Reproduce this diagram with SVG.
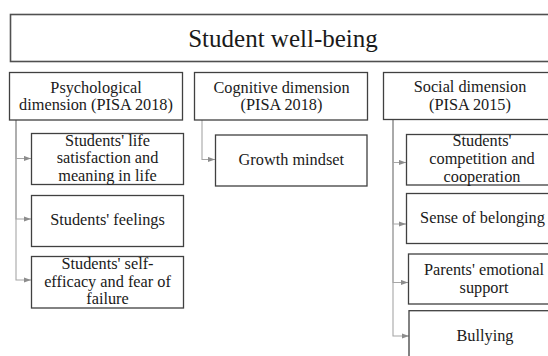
<svg xmlns="http://www.w3.org/2000/svg" width="548" height="356" viewBox="0 0 548 356">
<style>
.box{fill:#fff;stroke:#404040;stroke-width:1.3}
.title{fill:#fff;stroke:#505050;stroke-width:1.6}
text{font-family:'Liberation Serif','DejaVu Serif',serif;fill:#1a1a1a;text-anchor:middle}
.t{font-size:16.3px}
.tt{font-size:25px}
.c{fill:none;stroke:#a6a6a6;stroke-width:1.1;marker-end:url(#ah)}
</style>
<defs>
<marker id="ah" markerUnits="userSpaceOnUse" markerWidth="7" markerHeight="6" refX="7" refY="3" orient="auto">
<path d="M0,0.4 L7,3 L0,5.6 z" fill="#8c8c8c"/>
</marker>
</defs>
<rect width="548" height="356" fill="#fff"/>
<g id="connectors">
<path class="c" d="M16,120 V158.5 H31"/>
<path class="c" d="M16,120 V219 H31"/>
<path class="c" d="M16,120 V280 H31"/>
<path class="c" d="M202,120 V159.5 H215"/>
<path class="c" d="M393,119.5 V162.5 H406"/>
<path class="c" d="M393,119.5 V224 H406"/>
<path class="c" d="M393,119.5 V282.5 H408"/>
<path class="c" d="M393,119.5 V336 H409"/>
</g>
<g id="student-well-being">
<rect class="title" x="10.5" y="14.5" width="546" height="47"/>
<text class="tt" x="283" y="47">Student well-being</text>
</g>
<g id="psychological">
<rect class="box" x="9.5" y="72.5" width="173" height="47.5"/>
<text class="t" x="96" y="92.5">Psychological</text>
<text class="t" x="96" y="110">dimension (PISA 2018)</text>
</g>
<g id="cognitive">
<rect class="box" x="194.5" y="72.5" width="173" height="47.5"/>
<text class="t" x="281.5" y="92.5">Cognitive dimension</text>
<text class="t" x="281.5" y="110">(PISA 2018)</text>
</g>
<g id="social">
<rect class="box" x="383.5" y="72.5" width="173" height="47"/>
<text class="t" x="470" y="92">Social dimension</text>
<text class="t" x="470" y="110">(PISA 2015)</text>
</g>
<g id="life-satisfaction">
<rect class="box" x="31.5" y="133.5" width="152" height="51"/>
<text class="t" x="107.5" y="145.5">Students' life</text>
<text class="t" x="107.5" y="163">satisfaction and</text>
<text class="t" x="107.5" y="180.5">meaning in life</text>
</g>
<g id="feelings">
<rect class="box" x="31.5" y="195.5" width="152" height="51"/>
<text class="t" x="107.5" y="225">Students' feelings</text>
</g>
<g id="self-efficacy">
<rect class="box" x="31.5" y="256.5" width="152" height="51.5"/>
<text class="t" x="107.5" y="269">Students' self-</text>
<text class="t" x="107.5" y="286.5">efficacy and fear of</text>
<text class="t" x="107.5" y="304">failure</text>
</g>
<g id="growth-mindset">
<rect class="box" x="215.5" y="135" width="151.5" height="51"/>
<text class="t" x="291.3" y="165">Growth mindset</text>
</g>
<g id="competition">
<rect class="box" x="406.5" y="134.5" width="152" height="50.5"/>
<text class="t" x="482" y="146">Students'</text>
<text class="t" x="482" y="164">competition and</text>
<text class="t" x="482" y="181.5">cooperation</text>
</g>
<g id="belonging">
<rect class="box" x="406.5" y="193.5" width="152" height="50"/>
<text class="t" x="482.5" y="222.7">Sense of belonging</text>
</g>
<g id="parents-support">
<rect class="box" x="408.5" y="254" width="152" height="50"/>
<text class="t" x="484" y="275">Parents' emotional</text>
<text class="t" x="484" y="292.7">support</text>
</g>
<g id="bullying">
<rect class="box" x="409" y="310.7" width="152" height="51"/>
<text class="t" x="485" y="341">Bullying</text>
</g>
</svg>
